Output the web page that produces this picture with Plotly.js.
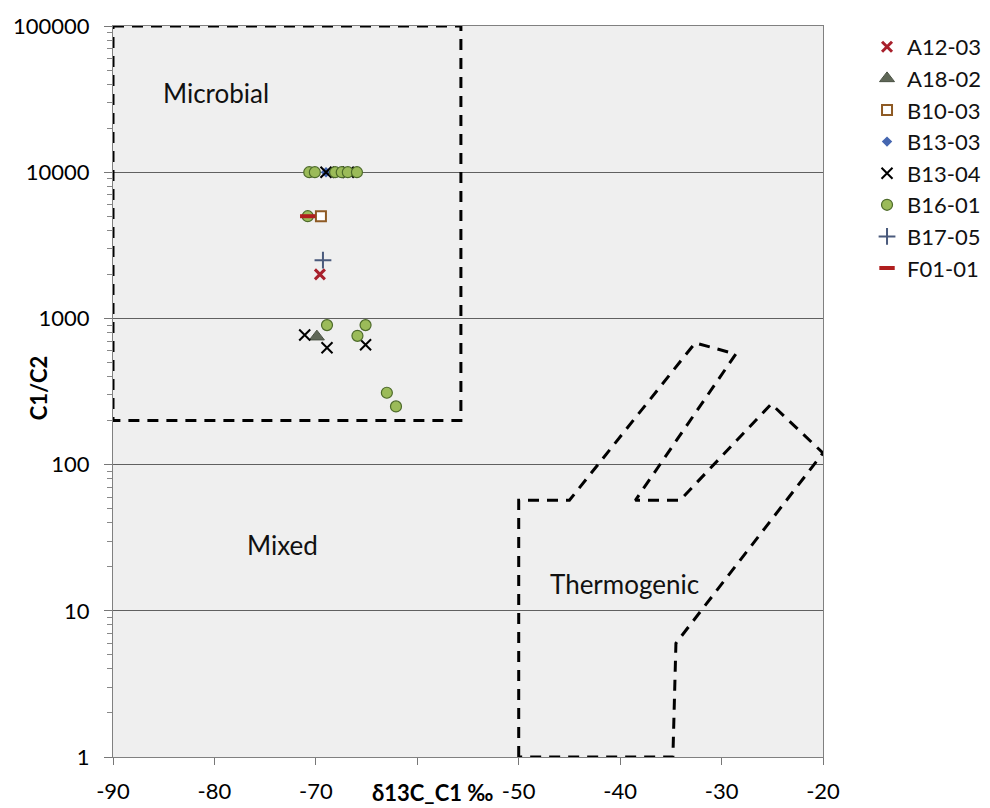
<!DOCTYPE html>
<html>
<head>
<meta charset="utf-8">
<script src="https://cdn.plot.ly/plotly-3.0.1.min.js"></script>
<style>
  html, body { margin: 0; padding: 0; background: #ffffff; }
  #chart { width: 990px; height: 808px; }
</style>
</head>
<body>
<div id="chart"></div>
<script>
// Axis ticks (the -60 label is left blank: the axis title sits there)
const xTickVals = [-90, -80, -70, -60, -50, -40, -30, -20];
const xTickText = ['-90', '-80', '-70', '', '-50', '-40', '-30', '-20'];
const yTickVals = [1, 10, 100, 1000, 10000, 100000];
const yTickText = ['1', '10', '100', '1000', '10000', '100000'];

// Genetic field boundaries (δ13C, C1/C2)
const microbialX = [-90, -55.7, -55.7, -90, -90];
const microbialY = [100000, 100000, 200, 200, 100000];
const thermoX = [-50, -50, -45, -32.6, -28.6, -38.5, -34.1, -25.1, -20, -34.5, -34.8, -50];
const thermoY = [1, 57, 57, 680, 570, 57, 57, 260, 120, 6, 1, 1];

// Samples
const a1203X = [-69.6];
const a1203Y = [2000];
const a1802X = [-69.9];
const a1802Y = [750];
const b1003X = [-69.5];
const b1003Y = [5000];
const b1303X = [-69.0];
const b1303Y = [10000];
const b1304X = [-69.0, -67.8, -66.8, -71.1, -68.9, -65.1];
const b1304Y = [10000, 10000, 10000, 770, 630, 660];
const b1601X = [-70.65, -70.1, -68.1, -67.45, -66.85, -65.95, -70.8, -68.9, -65.9, -65.1, -63.0, -62.1];
const b1601Y = [10000, 10000, 10000, 10000, 10000, 10000, 5000, 900, 760, 900, 310, 250];
const b1705X = [-69.3];
const b1705Y = [2500];
const f0101X = [-70.8];
const f0101Y = [5000];

const FONT = 'Lato, "Liberation Sans", sans-serif';
const dashLine = { color: '#000000', width: 3, dash: '11px,8px' };

const traces = [
  { x: microbialX, y: microbialY, mode: 'lines', line: dashLine, showlegend: false, hoverinfo: 'skip' },
  { x: thermoX, y: thermoY, mode: 'lines', line: dashLine, showlegend: false, hoverinfo: 'skip' },
  { name: 'A12-03', x: a1203X, y: a1203Y, mode: 'markers',
    marker: { symbol: 'x-thin-open', size: 10, color: '#a8202c', line: { color: '#a8202c', width: 3 } } },
  { name: 'A18-02', x: a1802X, y: a1802Y, mode: 'markers',
    marker: { symbol: 'triangle-up', size: 13, color: '#5f6757', line: { color: '#4a5244', width: 1 } } },
  { name: 'B10-03', x: b1003X, y: b1003Y, mode: 'markers',
    marker: { symbol: 'square', size: 10, color: '#ffffff', line: { color: '#8e5a24', width: 2 } } },
  { name: 'B13-03', x: b1303X, y: b1303Y, mode: 'markers',
    marker: { symbol: 'diamond', size: 8, color: '#4566b0' } },
  { name: 'B13-04', x: b1304X, y: b1304Y, mode: 'markers',
    marker: { symbol: 'x-thin-open', size: 11, color: '#000000', line: { color: '#000000', width: 2 } } },
  { name: 'B16-01', x: b1601X, y: b1601Y, mode: 'markers',
    marker: { symbol: 'circle', size: 11, color: '#9bbb59', line: { color: '#4d6a2a', width: 1.2 } } },
  { name: 'B17-05', x: b1705X, y: b1705Y, mode: 'markers',
    marker: { symbol: 'cross-thin-open', size: 12, color: '#4a5a7c', line: { color: '#4a5a7c', width: 2 } } },
  { name: 'F01-01', x: f0101X, y: f0101Y, mode: 'markers',
    marker: { symbol: 'line-ew-open', size: 11, color: '#b01e1e', line: { color: '#b01e1e', width: 4 } } }
];

const layout = {
  width: 990,
  height: 808,
  margin: { l: 113, r: 167, t: 26, b: 51, autoexpand: false },
  paper_bgcolor: '#ffffff',
  plot_bgcolor: '#efefef',
  font: { family: FONT, color: '#000000' },
  showlegend: true,
  legend: {
    x: 1.062, y: 1.0, xanchor: 'left', yanchor: 'top',
    font: { family: FONT, size: 22, color: '#111111' },
    bgcolor: 'rgba(0,0,0,0)', tracegroupgap: 0
  },
  xaxis: {
    range: [-90, -20],
    tickvals: xTickVals,
    ticktext: xTickText,
    tickfont: { family: FONT, size: 22 },
    ticks: 'outside', ticklen: 7, tickcolor: '#777777',
    ticklabelstandoff: 8,
    showgrid: false, zeroline: false,
    showline: true, linecolor: '#808080', linewidth: 1, mirror: true
  },
  yaxis: {
    type: 'log',
    range: [0, 5],
    tickvals: yTickVals,
    ticktext: yTickText,
    tickfont: { family: FONT, size: 22 },
    ticks: 'outside', ticklen: 8, tickcolor: '#777777',
    ticklabelstandoff: 10,
    minor: { ticks: 'outside', ticklen: 5, tickcolor: '#888888', dtick: 'D1', showgrid: false },
    showgrid: true, gridcolor: '#606060', gridwidth: 1,
    zeroline: false,
    showline: true, linecolor: '#808080', linewidth: 1, mirror: true
  },
  annotations: [
    // axis titles
    { x: 0.4505, y: -0.049, xref: 'paper', yref: 'paper', text: 'δ13C_C1 ‰', showarrow: false,
      xanchor: 'center', yanchor: 'middle',
      font: { family: FONT, size: 22, weight: 'bold', color: '#000000' } },
    { x: -0.105, y: 0.505, xref: 'paper', yref: 'paper', text: 'C1/C2', showarrow: false,
      textangle: -90, xanchor: 'center', yanchor: 'middle',
      font: { family: FONT, size: 22, weight: 'bold', color: '#000000' } },
    // field labels
    { x: -79.8, y: Math.log10(34800), xref: 'x', yref: 'y', text: 'Microbial', showarrow: false,
      font: { family: FONT, size: 26, color: '#111111' } },
    { x: -73.3, y: Math.log10(28.2), xref: 'x', yref: 'y', text: 'Mixed', showarrow: false,
      font: { family: FONT, size: 26, color: '#111111' } },
    { x: -39.6, y: Math.log10(15.2), xref: 'x', yref: 'y', text: 'Thermogenic', showarrow: false,
      font: { family: FONT, size: 26, color: '#111111' } }
  ]
};

Plotly.newPlot('chart', traces, layout, { displayModeBar: false, staticPlot: true });
</script>
</body>
</html>
